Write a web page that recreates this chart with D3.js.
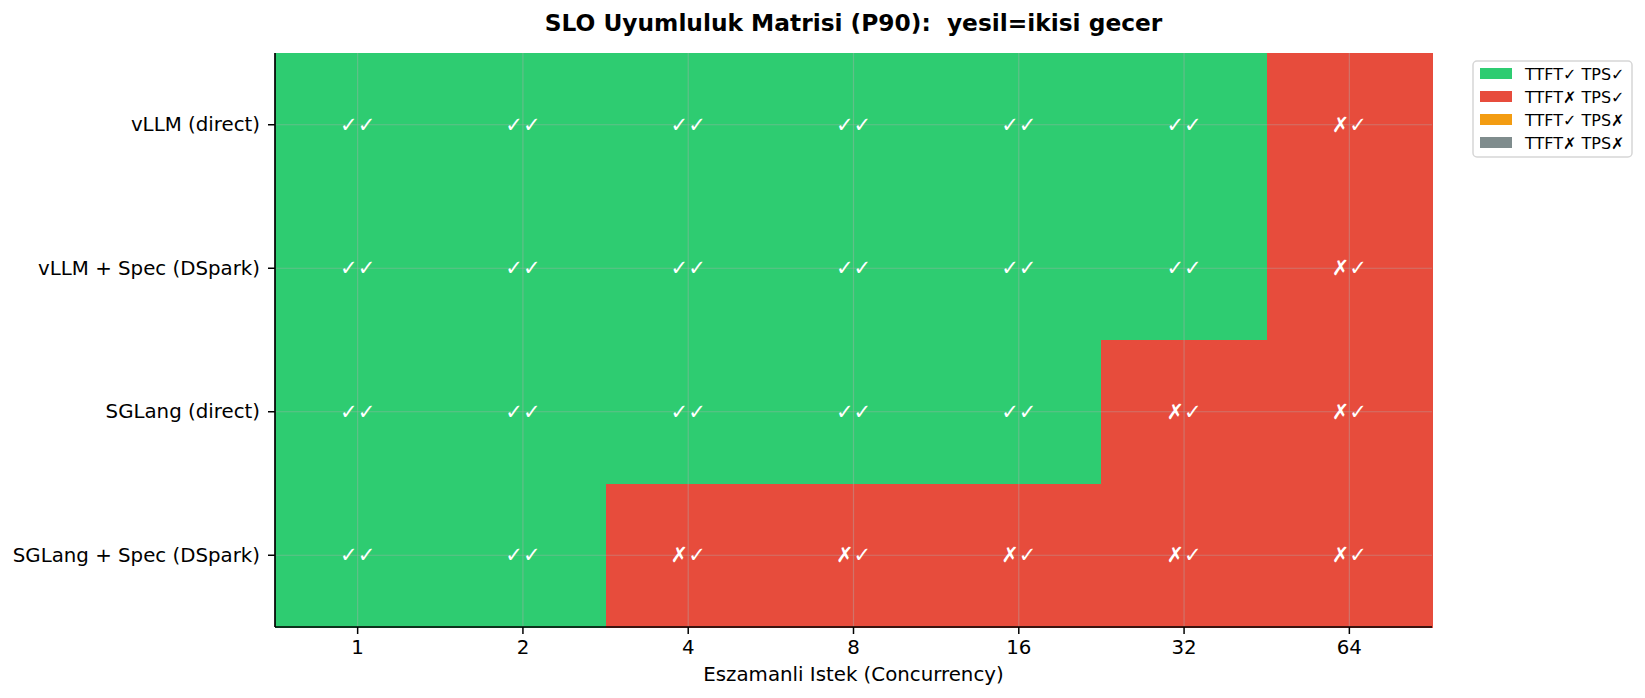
<!DOCTYPE html>
<html>
<head>
<meta charset="utf-8">
<script src="https://cdn.jsdelivr.net/npm/d3@7"></script>
<style>
	body { margin: 0; background: #fff; }
	text { font-family: "DejaVu Sans", sans-serif; white-space: pre; }
</style>
</head>
<body>
<svg width="1645" height="698"></svg>
<script>

	// Data
	var systems = ["vLLM (direct)", "vLLM + Spec (DSpark)", "SGLang (direct)", "SGLang + Spec (DSpark)"];
	var concurrency = ["1", "2", "4", "8", "16", "32", "64"];
	// 1 = SLO met, 0 = missed
	var ttftPass = [
		[1, 1, 1, 1, 1, 1, 0],
		[1, 1, 1, 1, 1, 1, 0],
		[1, 1, 1, 1, 1, 0, 0],
		[1, 1, 0, 0, 0, 0, 0]
	];
	var tpsPass = [
		[1, 1, 1, 1, 1, 1, 1],
		[1, 1, 1, 1, 1, 1, 1],
		[1, 1, 1, 1, 1, 1, 1],
		[1, 1, 1, 1, 1, 1, 1]
	];
	var legendLabels = ["TTFT\u2713 TPS\u2713", "TTFT\u2717 TPS\u2713", "TTFT\u2713 TPS\u2717", "TTFT\u2717 TPS\u2717"];
	var legendColors = ["#2ecc71", "#e74c3c", "#f39c12", "#7f8c8d"];

	function cellColor(t, p) {
		if (t && p) return legendColors[0];
		if (!t && p) return legendColors[1];
		if (t && !p) return legendColors[2];
		return legendColors[3];
	}

	var svg = d3.select("svg");
	var margin = {left: 275, top: 53, right: 1645 - 1432, bottom: 698 - 627};
	var width = 1645 - margin.left - margin.right;
	var height = 698 - margin.top - margin.bottom;

	var x = d3.scaleBand().domain(concurrency).range([0, width]);
	var y = d3.scaleBand().domain(systems).range([0, height]);

	var g = svg.append("g").attr("transform", "translate(" + margin.left + "," + margin.top + ")");

	// cells
	var cells = [];
	systems.forEach(function(s, i) {
		concurrency.forEach(function(c, j) {
			cells.push({sys: s, conc: c, t: ttftPass[i][j], p: tpsPass[i][j]});
		});
	});

	g.selectAll("rect.cell").data(cells).enter().append("rect")
		.attr("class", "cell")
		.attr("x", function(d) { return x(d.conc); })
		.attr("y", function(d) { return y(d.sys); })
		.attr("width", x.bandwidth() + 1)
		.attr("height", y.bandwidth() + 1)
		.attr("shape-rendering", "crispEdges")
		.attr("fill", function(d) { return cellColor(d.t, d.p); });

	// grid lines
	g.selectAll("line.vgrid").data(concurrency).enter().append("line")
		.attr("x1", function(d) { return x(d) + x.bandwidth() / 2; })
		.attr("x2", function(d) { return x(d) + x.bandwidth() / 2; })
		.attr("y1", 0).attr("y2", height)
		.attr("stroke", "#b0b0b0").attr("stroke-opacity", 0.4).attr("stroke-width", 1.2);
	g.selectAll("line.hgrid").data(systems).enter().append("line")
		.attr("y1", function(d) { return y(d) + y.bandwidth() / 2; })
		.attr("y2", function(d) { return y(d) + y.bandwidth() / 2; })
		.attr("x1", 0).attr("x2", width)
		.attr("stroke", "#b0b0b0").attr("stroke-opacity", 0.4).attr("stroke-width", 1.2);

	// cell labels
	g.selectAll("text.cellLabel").data(cells).enter().append("text")
		.attr("x", function(d) { return x(d.conc) + x.bandwidth() / 2; })
		.attr("y", function(d) { return y(d.sys) + y.bandwidth() / 2; })
		.attr("text-anchor", "middle")
		.attr("dominant-baseline", "central")
		.attr("font-size", 21)
		.attr("fill", "#fff")
		.text(function(d) { return (d.t ? "\u2713" : "\u2717") + (d.p ? "\u2713" : "\u2717"); });

	// axes
	var xAxis = g.append("g").attr("transform", "translate(0," + height + ")")
		.call(d3.axisBottom(x).tickSize(7).tickPadding(6));
	var yAxis = g.append("g").call(d3.axisLeft(y).tickSize(7).tickPadding(8));
	[xAxis, yAxis].forEach(function(a) {
		a.selectAll("text").attr("font-size", 19.8).attr("fill", "#000").style("font-family", "DejaVu Sans");
		a.selectAll("line").attr("stroke", "#000").attr("stroke-width", 1.5);
		a.select(".domain").attr("stroke", "#000").attr("stroke-width", 1.7);
	});
	xAxis.select(".domain").attr("d", "M0,0H" + width);
	yAxis.select(".domain").attr("d", "M0,0V" + height);

	// labels
	svg.append("text")
		.attr("x", margin.left + width / 2).attr("y", 681)
		.attr("text-anchor", "middle").attr("font-size", 19.8)
		.text("Eszamanli Istek (Concurrency)");

	svg.append("text")
		.attr("x", margin.left + width / 2).attr("y", 31)
		.attr("text-anchor", "middle").attr("font-size", 23.3).attr("font-weight", "bold")
		.text("SLO Uyumluluk Matrisi (P90):  yesil=ikisi gecer");

	// legend
	var leg = svg.append("g").attr("transform", "translate(1473,61)");
	leg.append("rect")
		.attr("width", 159).attr("height", 96).attr("rx", 4)
		.attr("fill", "#fff").attr("stroke", "#d6d6d6").attr("stroke-width", 1.5);
	var item = leg.selectAll("g.item").data(legendLabels).enter().append("g")
		.attr("transform", function(d, i) { return "translate(7," + (7 + i * 23) + ")"; });
	item.append("rect")
		.attr("width", 32).attr("height", 11)
		.attr("fill", function(d, i) { return legendColors[i]; });
	item.append("text")
		.attr("x", 45).attr("y", 6)
		.attr("dominant-baseline", "central")
		.attr("font-size", 16)
		.text(function(d) { return d; });

</script>
</body>
</html>
